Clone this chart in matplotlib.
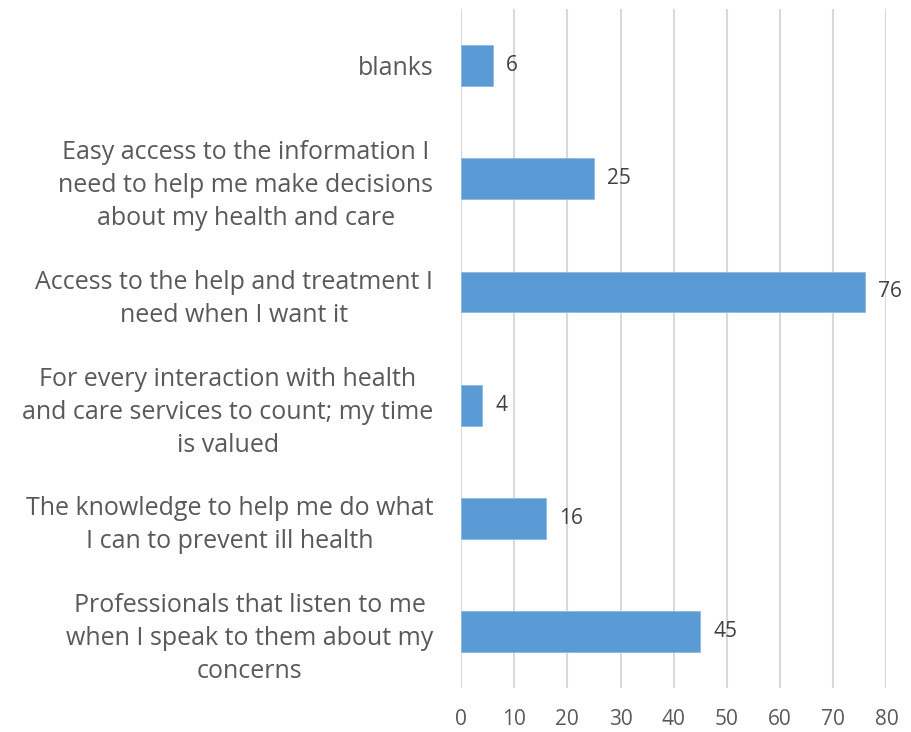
import matplotlib
matplotlib.use("Agg")
import matplotlib.pyplot as plt

# survey answers, bottom to top
categories = [
    "Professionals that listen to me\nwhen I speak to them about my\nconcerns",
    "The knowledge to help me do what\nI can to prevent ill health",
    "For every interaction with health\nand care services to count; my time\nis valued",
    "Access to the help and treatment I\nneed when I want it",
    "Easy access to the information I\nneed to help me make decisions\nabout my health and care",
    "blanks",
]
counts = [45, 16, 4, 76, 25, 6]
xticks = [0, 10, 20, 30, 40, 50, 60, 70, 80]

plt.rcParams['font.family'] = ['Open Sans', 'DejaVu Sans']

fig = plt.figure(figsize=(9.11, 7.32), dpi=100)
ax = fig.add_axes([0.506, 0.06, 0.467, 0.9277])

pos = list(range(len(categories)))
ax.barh(pos, counts, height=0.36, color='#5B9BD5', edgecolor='#8DB9E3', linewidth=0.6, zorder=3)

for y, v in zip(pos, counts):
    ax.text(v + 2.5, y, str(v), va='center', ha='left', fontsize=15, color='#404040')

ax.set_xlim(0, 80)
ax.set_ylim(-0.5, len(categories) - 0.5)
ax.set_xticks(xticks)
ax.set_yticks(pos)
ax.set_yticklabels(categories, multialignment='center', fontsize=18, color='#595959', linespacing=1.42)
ax.tick_params(axis='y', length=0, pad=20)
ax.tick_params(axis='x', length=0, pad=15, labelsize=15, labelcolor='#595959')

ax.grid(axis='x', color='#D9D9D9', linewidth=1.5, zorder=0)
for s in ax.spines.values():
    s.set_visible(False)

fig.savefig('out.png', dpi=100)
